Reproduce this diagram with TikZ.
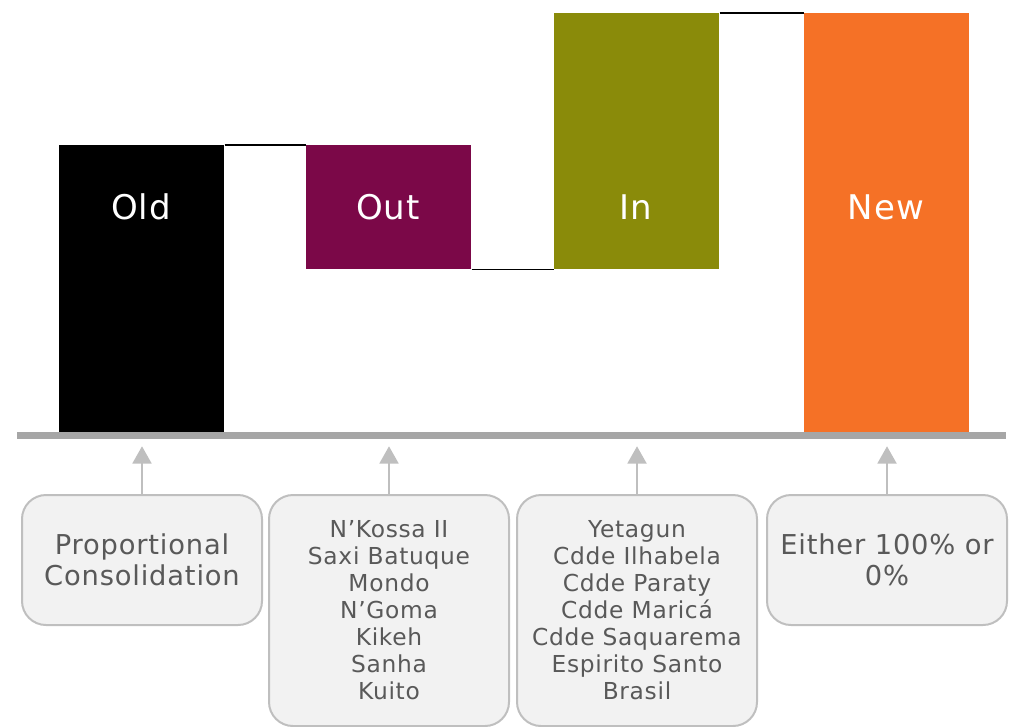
\documentclass[tikz,border=0pt]{standalone}
\usepackage{fontspec}
\setmainfont{DejaVu Sans}
\usepackage{tikz}
\usetikzlibrary{arrows.meta, positioning}

\definecolor{outc}{RGB}{123,8,72}
\definecolor{inc}{RGB}{138,139,10}
\definecolor{newc}{RGB}{245,113,38}
\definecolor{axisgray}{RGB}{166,166,166}
\definecolor{notegray}{RGB}{191,191,191}
\definecolor{notefill}{RGB}{242,242,242}
\definecolor{notetext}{RGB}{89,89,89}

\begin{document}
\begin{tikzpicture}[
    x=0.75pt, y=-0.75pt,
    >=Triangle,
    bar/.style={
        rectangle,
        inner sep=0pt,
        minimum width=123.75pt,
        anchor=north west
    },
    barlabel/.style={
        text=white,
        font=\fontsize{25.5}{30}\selectfont\addfontfeature{LetterSpace=3}
    },
    note/.style={
        draw=notegray,
        line width=1.5pt,
        fill=notefill,
        rectangle,
        rounded corners=18pt,
        minimum width=180pt,
        align=center,
        text=notetext,
        anchor=north west
    },
    bignote/.style={note, minimum height=97.5pt,
        font=\fontsize{20.5}{23.5}\selectfont\addfontfeature{LetterSpace=3}},
    longnote/.style={note, minimum height=173.25pt,
        font=\fontsize{17.5}{20.25}\selectfont\addfontfeature{LetterSpace=3}},
    arrow/.style={draw=notegray, line width=2.2pt,
        shorten >=5pt, arrows={-Triangle[width=14pt, length=13pt]}},
    link/.style={black, line width=1.1pt}
]
\useasboundingbox (0,0) rectangle (1012,726);

% bars
\node[bar, fill=black, minimum height=215.25pt] (old) at (59,145) {};
\node[bar, fill=outc, minimum height=93pt] (out) at (306,145) {};
\node[bar, fill=inc, minimum height=192pt] (in) at (554,13) {};
\node[bar, fill=newc, minimum height=314.25pt] (new) at (804,13) {};

\node[barlabel] (oldlabel) at (141,207) {Old};
\node[barlabel] (outlabel) at (388,207) {Out};
\node[barlabel] (inlabel) at (636,207) {In};
\node[barlabel] (newlabel) at (886,207) {New};

\draw[link] (old.north east) -- (out.north west);
\draw[link] (out.south east) -- (in.south west);
\draw[link] (in.north east) -- (new.north west);

% axis
\node[rectangle, fill=axisgray, inner sep=0pt, minimum width=741.75pt,
      minimum height=5.25pt, anchor=north west] (axis) at (17,432) {};

% notes
\node[bignote] (oldnote) at (21,494) {Proportional\\Consolidation};
\node[longnote] (outnote) at (268,494) {N’Kossa II\\Saxi Batuque\\Mondo\\N’Goma\\Kikeh\\Sanha\\Kuito};
\node[longnote] (innote) at (516,494) {Yetagun\\Cdde Ilhabela\\Cdde Paraty\\Cdde Maricá\\Cdde Saquarema\\Espirito Santo\\Brasil};
\node[bignote] (newnote) at (766,494) {Either 100\% or\\0\%};

\foreach \n in {oldnote, outnote, innote, newnote}
    \draw[arrow] (\n.north) -- (\n.north |- axis.south);

\end{tikzpicture}
\end{document}
